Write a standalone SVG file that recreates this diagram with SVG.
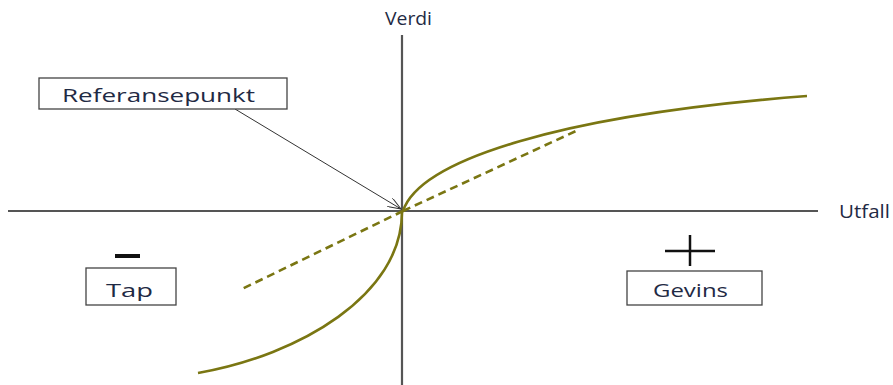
<svg xmlns="http://www.w3.org/2000/svg" width="893" height="385" viewBox="0 0 893 385">
<style>
.ax{stroke:#555;stroke-width:2.2;fill:none}
.box{fill:#fff;stroke:#444;stroke-width:1.3}
.lbl{font-family:"Open Sans","Liberation Sans",sans-serif;font-size:18px;fill:#1f2a44}
.cur{stroke:#7a7612;stroke-width:2.6;fill:none}
.dash{stroke:#7a7612;stroke-width:2.6;fill:none;stroke-dasharray:8 5}
</style>
<defs>
<marker id="ah" markerWidth="14" markerHeight="10" refX="13" refY="5" orient="auto" markerUnits="userSpaceOnUse">
<path d="M0,0 L13,5 L0,10" fill="none" stroke="#333" stroke-width="1"/>
</marker>
</defs>
<rect width="893" height="385" fill="#fff"/>
<g id="axes">
<line class="ax" x1="402" y1="35" x2="402" y2="385"/>
<line class="ax" x1="8" y1="211" x2="818" y2="211"/>
<text class="lbl" x="385" y="25" font-size="14" textLength="47" lengthAdjust="spacingAndGlyphs">Verdi</text>
<text class="lbl" x="839" y="218" font-size="14" textLength="51" lengthAdjust="spacingAndGlyphs">Utfall</text>
</g>
<g id="curves">
<path class="cur" d="M403,211 C420,160 560,115 807,96"/>
<path class="cur" d="M402,212 C402,295 300,355 198,373"/>
<line class="dash" x1="403" y1="211" x2="576" y2="131"/>
<line class="dash" x1="403" y1="211" x2="242" y2="289"/>
</g>
<g id="connectors">
<line x1="235" y1="109" x2="401" y2="209" stroke="#333" stroke-width="1" marker-end="url(#ah)"/>
</g>
<g id="referansepunkt">
<rect class="box" x="39" y="78" width="248" height="31"/>
<text class="lbl" x="62" y="102" textLength="193" lengthAdjust="spacingAndGlyphs">Referansepunkt</text>
</g>
<g id="tap">
<rect x="115" y="254" width="25" height="4" fill="#111"/>
<rect class="box" x="86" y="268" width="90" height="37"/>
<text class="lbl" x="106" y="297" textLength="47" lengthAdjust="spacingAndGlyphs">Tap</text>
</g>
<g id="gevins">
<line x1="665" y1="251" x2="715" y2="251" stroke="#111" stroke-width="2.5"/>
<line x1="690" y1="235" x2="690" y2="266" stroke="#111" stroke-width="2.5"/>
<rect class="box" x="627" y="271" width="135" height="34"/>
<text class="lbl" x="653" y="297" textLength="75" lengthAdjust="spacingAndGlyphs">Gevins</text>
</g>
</svg>
